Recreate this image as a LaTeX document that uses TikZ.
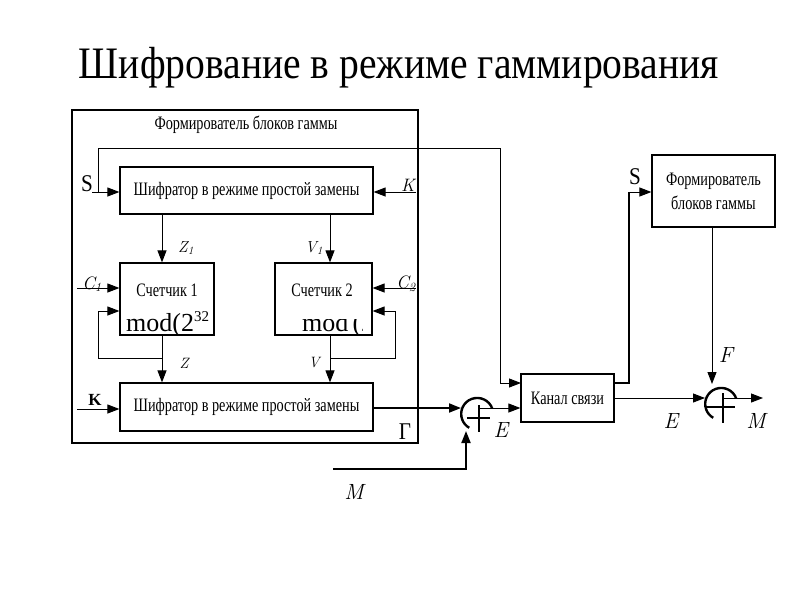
\documentclass[tikz,border=0pt]{standalone}
\usepackage{fontspec}
\setmainfont{Liberation Serif}
\newfontfamily\cond[FakeStretch=0.88]{Liberation Serif}
\newfontfamily\bcond[FakeStretch=0.75]{Liberation Serif}
\newfontfamily\lmrm{Latin Modern Roman}
\usetikzlibrary{arrows.meta}
\begin{document}
\begin{tikzpicture}[x=1pt,y=-1pt,
  box/.style={draw,line width=1.2pt,inner sep=0pt},
  arr/.style={line width=1pt,-{Triangle[length=12pt,width=9pt]}},
  tarr/.style={line width=1.8pt,-{Triangle[length=12pt,width=9pt]}},
  thin/.style={line width=1pt},
  btxt/.style={font=\bcond\fontsize{19}{21}\selectfont,inner sep=0pt},
  lbl/.style={font=\cond\fontsize{24}{26}\selectfont,inner sep=0pt},
  ilbl/.style={font=\lmrm\itshape\fontsize{22}{24}\selectfont,inner sep=0pt},
  mlbl/.style={font=\lmrm\itshape\fontsize{18}{20}\selectfont,inner sep=0pt},
  slbl/.style={font=\lmrm\itshape\fontsize{15}{17}\selectfont,inner sep=0pt},
  xorarc/.style={line width=2.4pt}
]
\useasboundingbox (0,0) rectangle (800,600);
% title
\node[font=\cond\fontsize{45}{48}\selectfont,inner sep=0pt] (title) at (399,68) {Шифрование в режиме гаммирования};
% outer frame
\node[box,minimum width=346pt,minimum height=333pt] (outer) at (245,276.5) {};
\node[btxt] (outert) at (246,125) {Формирователь блоков гаммы};
% boxes
\node[box,btxt,minimum width=253pt,minimum height=47pt] (enc1) at (246.5,190.5) {Шифратор в режиме простой замены};
\node[box,minimum width=94pt,minimum height=72pt] (cnt1) at (167,299) {};
\node[box,minimum width=97pt,minimum height=72pt] (cnt2) at (323.5,299) {};
\node[box,btxt,minimum width=253pt,minimum height=48pt] (enc2) at (246.5,407) {Шифратор в режиме простой замены};
\node[box,btxt,minimum width=93pt,minimum height=48pt] (chan) at (567.5,398) {Канал связи};
\node[box,btxt,minimum width=123pt,minimum height=72pt,align=center] (form) at (713.5,191) {Формирователь\\[3pt]блоков гаммы};
% counter texts
\node[btxt] (c1t) at (167,290) {Счетчик 1};
\node[btxt] (c2t) at (322,290) {Счетчик 2};
\begin{scope}
  \clip (121,264) rectangle (213,334);
  \node[anchor=base west,inner sep=0pt,font=\rmfamily\fontsize{26}{28}\selectfont] (c1m) at (126,331) {mod(2\raisebox{10pt}{\fontsize{15}{16}\selectfont 32}};
\end{scope}
\begin{scope}
  \clip (276,319) rectangle (362,334);
  \node[anchor=base west,inner sep=0pt,font=\rmfamily\fontsize{26}{28}\selectfont] (c2m) at (302,331) {mod\,(2};
\end{scope}
% xor nodes
\node[circle,minimum size=32pt,inner sep=0pt] (xor1) at (477,414) {};
\node[circle,minimum size=32pt,inner sep=0pt] (xor2) at (721,404) {};
\draw[xorarc] (xor1.20) arc[start angle=20,end angle=240,radius=16pt];
\draw[xorarc] (479,405) -- (479,432) (467,418) -- (490,418);
\draw[xorarc] (xor2.20) arc[start angle=20,end angle=240,radius=16pt];
\draw[xorarc] (723,393) -- (723,423) (705,407) -- (735,407);
% coordinates
\coordinate (s0) at (92,192);
\coordinate (sj) at (98,192);
\coordinate (stop) at (500,148);
\coordinate (chin) at (521,383);
\coordinate (k0) at (416,192);
\coordinate (c1in) at (77,288);
\coordinate (c2in) at (416,288);
\coordinate (kin) at (77,409);
\coordinate (m0) at (333,469);
\coordinate (mout) at (763,398);
% S loop
\draw[arr] (s0) -- (enc1.west |- s0);
\draw[thin] (sj) |- (stop);
\draw[arr] (stop) |- (chin);
\draw[arr] (k0) -- (enc1.east |- k0);
% enc1 to counters
\draw[arr] ([xshift=-5pt]cnt1.north |- enc1.south) -- ([xshift=-5pt]cnt1.north);
\draw[arr] ([xshift=6.5pt]cnt2.north |- enc1.south) -- ([xshift=6.5pt]cnt2.north);
% counters to enc2
\draw[arr] ([xshift=-5pt]cnt1.south) -- ([xshift=-5pt]cnt1.south |- enc2.north);
\draw[arr] ([xshift=6.5pt]cnt2.south) -- ([xshift=6.5pt]cnt2.south |- enc2.north);
% feedback loops
\draw[arr] (162,358) -| (98,311) -- (cnt1.west |- 0,311);
\draw[arr] (330,358) -| (395,311) -- (cnt2.east |- 0,311);
% C inputs
\draw[arr] (c1in) -- (cnt1.west |- c1in);
\draw[arr] (c2in) -- (cnt2.east |- c2in);
\draw[arr] (kin) -- (enc2.west |- kin);
% enc2 to xor1
\draw[tarr] (enc2.east |- 0,408) -- (461,408);
\draw[arr] (479,408) -- (chan.west |- 0,408);
\draw[tarr] (m0) -| (466,431);
% channel to form
\draw[line width=1.8pt] (chan.east |- 0,383) -| (629,192);
\draw[arr] (629,192) -- (form.west |- 0,192);
\draw[arr] (form.south -| 712,0) -- (712,384);
\draw[arr] (chan.east |- 0,398) -- (705,398);
\draw[arr] (723,398) -- (mout);
% labels
\node[lbl] (ls1) at (87,184) {S};
\node[mlbl] (lk1) at (408,185) {K};
\node[slbl,font=\lmrm\itshape\fontsize{16}{18}\selectfont] (lz1) at (186,248) {Z\textsubscript{1}};
\node[slbl,font=\lmrm\itshape\fontsize{16}{18}\selectfont] (lv1) at (314,248) {V\textsubscript{1}};
\node[mlbl] (lc1) at (92,284) {C\textsubscript{1}};
\node[mlbl] (lc2) at (406,284) {C\textsubscript{2}};
\node[slbl] (lz) at (184,363) {Z};
\node[slbl] (lv) at (314,363) {V};
\node[font=\bfseries\fontsize{17}{19}\selectfont,inner sep=0pt] (lk2) at (95,400) {K};
\node[lbl] (lg) at (405,432) {Г};
\node[ilbl] (le1) at (501,430) {E};
\node[ilbl] (lm) at (354,492) {M};
\node[lbl] (ls2) at (635,177) {S};
\node[ilbl] (lf) at (726,355) {F};
\node[ilbl] (le2) at (671,421) {E};
\node[ilbl] (lm2) at (756,421) {M};
\end{tikzpicture}
\end{document}
